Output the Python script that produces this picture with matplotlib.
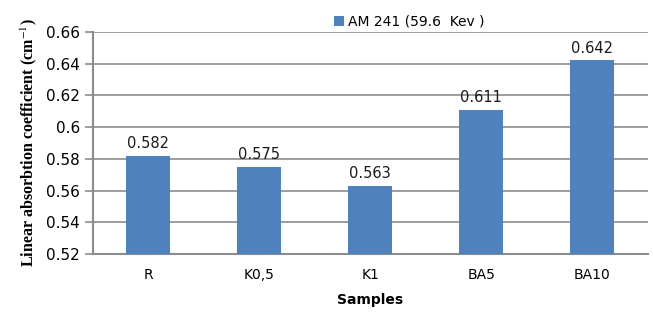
import matplotlib
matplotlib.use("Agg")
import matplotlib.pyplot as plt
import numpy as np

samples = ["R", "K0,5", "K1", "BA5", "BA10"]
values = [0.582, 0.575, 0.563, 0.611, 0.642]
yticks = [0.52, 0.54, 0.56, 0.58, 0.6, 0.62, 0.64, 0.66]
ytick_labels = ["0.52", "0.54", "0.56", "0.58", "0.6", "0.62", "0.64", "0.66"]

bar_color = "#4f81bd"
grid_color = "#8c8c8c"

plt.rcParams["mathtext.fontset"] = "stix"

fig = plt.figure(figsize=(6.53, 3.13), dpi=100)
ax = fig.add_axes([0.142, 0.188, 0.85, 0.71])

x = np.arange(len(samples))
bars = ax.bar(x, values, width=0.4, color=bar_color, label="AM 241 (59.6  Kev )", zorder=3)

for xi, v in zip(x, values):
    ax.text(xi, v + 0.003, f"{v:.3f}", ha="center", va="bottom", fontsize=10.5,
            family="DejaVu Sans", color="#1a1a1a")

ax.set_xlim(-0.5, len(samples) - 0.5)
ax.set_ylim(0.52, 0.66)
ax.set_yticks(yticks)
ax.set_yticklabels(ytick_labels, fontsize=11, family="DejaVu Sans")
ax.set_xticks(x)
ax.set_xticklabels(samples, fontsize=10, family="DejaVu Sans")
ax.tick_params(axis="x", length=0, pad=10)
ax.tick_params(axis="y", length=6, color=grid_color, width=1.2, pad=3)

ax.yaxis.grid(True, color=grid_color, linewidth=1.2, zorder=0)
for side in ["top", "right"]:
    ax.spines[side].set_visible(False)
for side in ["left", "bottom"]:
    ax.spines[side].set_color(grid_color)
    ax.spines[side].set_linewidth(1.5)

ax.set_ylabel("Linear absorbtion coefficient (cm$^{-1}$)", family="Liberation Serif",
              fontweight="bold", fontsize=11.5, labelpad=5)
ax.set_xlabel("Samples", fontweight="bold", fontsize=10, family="DejaVu Sans", labelpad=8)

ax.legend(loc="lower center", bbox_to_anchor=(0.57, 0.99), frameon=False, fontsize=10,
          handlelength=0.7, handleheight=0.7, handletextpad=0.3, borderaxespad=0)

fig.savefig("out.png", dpi=100)
